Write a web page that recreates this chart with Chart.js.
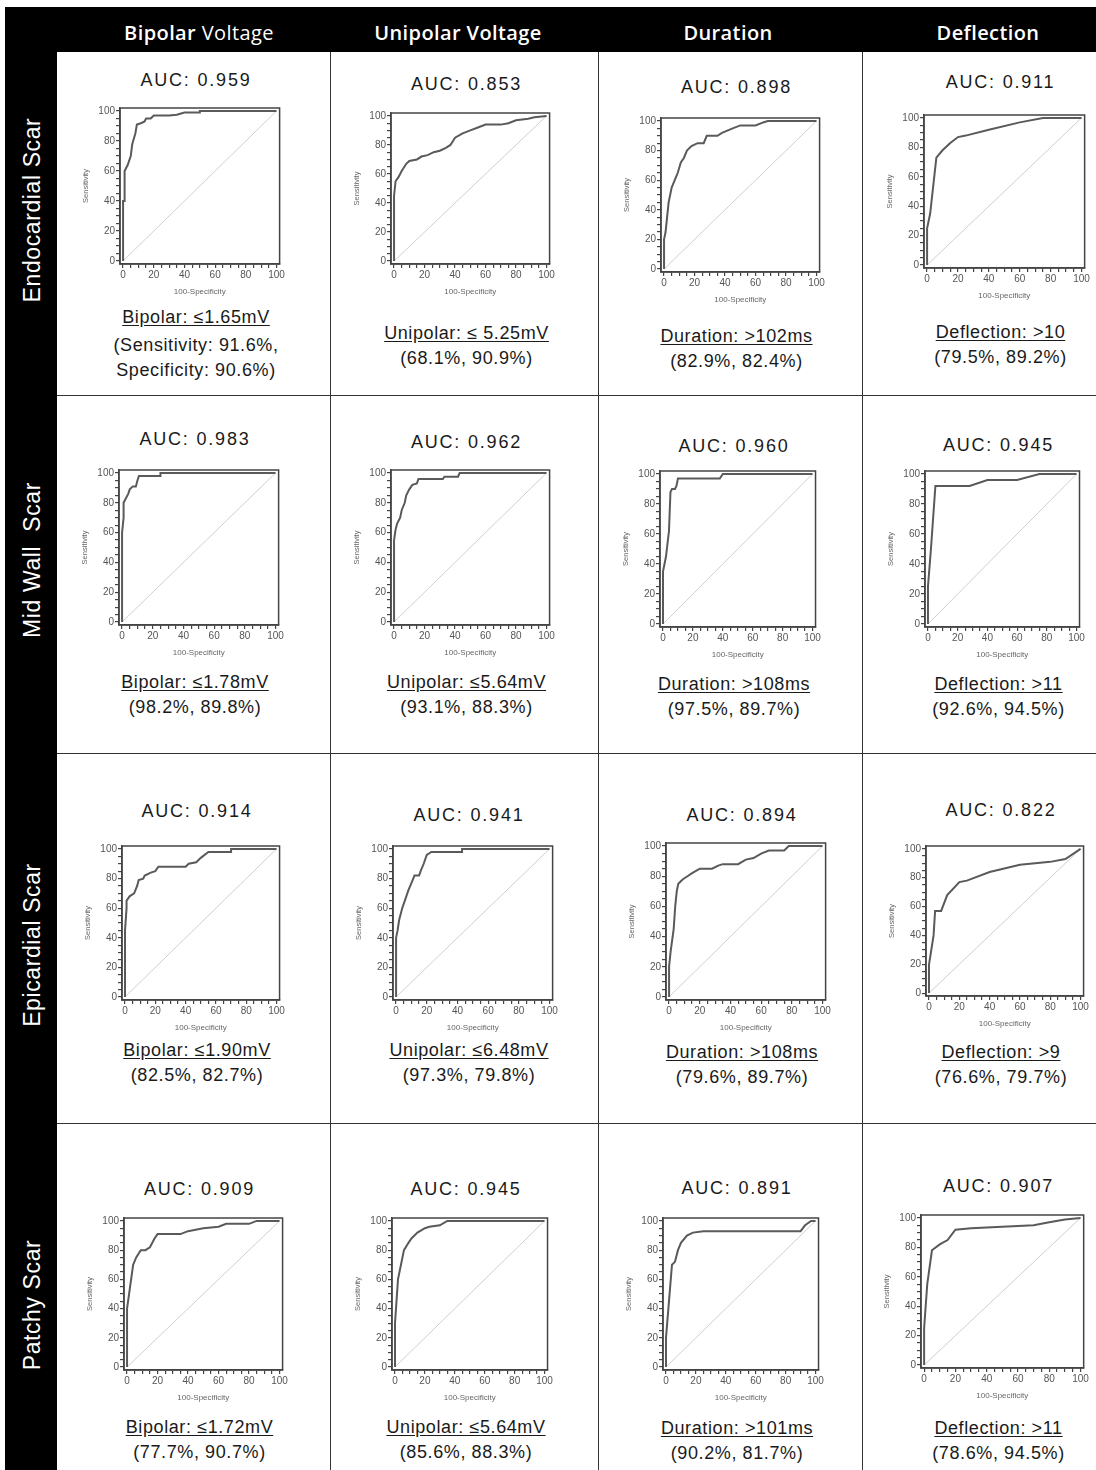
<!DOCTYPE html>
<html>
<head>
<meta charset="utf-8">
<script src="https://cdn.jsdelivr.net/npm/chart.js@4.4.1/dist/chart.umd.min.js"></script>
<style>
  html, body { margin: 0; padding: 0; background: #fff; }
  body { width: 1096px; height: 1470px; position: relative; overflow: hidden; font-family: "Liberation Sans", Arial, sans-serif; }
  .band { position: absolute; background: #000; }
  .head { position: absolute; color: #fff; font-family: "Open Sans", sans-serif; font-size: 20px; font-weight: 400; white-space: nowrap; transform: translate(-50%, -50%); letter-spacing: 0.4px; }
  .head b { font-weight: 600; }
  .rowlab { position: absolute; color: #fff; font-size: 23px; white-space: nowrap; transform: translate(-50%, -50%) rotate(-90deg); letter-spacing: 0.6px; }
  .vline { position: absolute; width: 1px; background: #333; }
  .hline { position: absolute; height: 1px; background: #333; }
  .txt { position: absolute; width: 280px; text-align: center; font-size: 18px; line-height: 22px; color: #1a1a1a; white-space: nowrap; letter-spacing: 0.6px; }
  .auc { letter-spacing: 1.8px; }
  .cut { text-decoration: underline; text-underline-offset: 2px; }
  canvas { position: absolute; }
</style>
</head>
<body>
<script>
// ---- labels ----
const colHeadBold = ['Bipolar', 'Unipolar Voltage', 'Duration', 'Deflection'];
const colHeadPlain = [' Voltage', '', '', ''];
const rowLabels = ['Endocardial Scar', 'Mid Wall\u00a0 Scar', 'Epicardial Scar', 'Patchy Scar'];
const axisLabels = [0, 20, 40, 60, 80, 100];
const diagonal = [0, 100];

const aucs = [
  [0.959, 0.853, 0.898, 0.911],
  [0.983, 0.962, 0.960, 0.945],
  [0.914, 0.941, 0.894, 0.822],
  [0.909, 0.945, 0.891, 0.907]
];
const cutoffs = [
  ['Bipolar: \u22641.65mV', 'Unipolar: \u2264 5.25mV', 'Duration: >102ms', 'Deflection: >10'],
  ['Bipolar: \u22641.78mV', 'Unipolar: \u22645.64mV', 'Duration: >108ms', 'Deflection: >11'],
  ['Bipolar: \u22641.90mV', 'Unipolar: \u22646.48mV', 'Duration: >108ms', 'Deflection: >9'],
  ['Bipolar: \u22641.72mV', 'Unipolar: \u22645.64mV', 'Duration: >101ms', 'Deflection: >11']
];
const sensitivity = [
  [91.6, 68.1, 82.9, 79.5],
  [98.2, 93.1, 97.5, 92.6],
  [82.5, 97.3, 79.6, 76.6],
  [77.7, 85.6, 90.2, 78.6]
];
const specificity = [
  [90.6, 90.9, 82.4, 89.2],
  [89.8, 88.3, 89.7, 94.5],
  [82.7, 79.8, 89.7, 79.7],
  [90.7, 88.3, 81.7, 94.5]
];

// ---- ROC curves (100-Specificity, Sensitivity) ----
const endoBipolarX = [0, 0, 1, 1, 2, 3, 5, 6, 8, 9, 12, 14, 15, 18, 20, 30, 35, 40, 50, 50, 100];
const endoBipolarY = [0, 40, 40, 60, 62, 64, 70, 78, 85, 91, 92, 93, 95, 95, 97, 97, 97.5, 99, 99, 100, 100];
const endoUnipolarX = [0, 0, 1, 3, 5, 8, 10, 15, 18, 22, 26, 30, 34, 37, 40, 45, 50, 55, 60, 70, 75, 80, 88, 92, 100];
const endoUnipolarY = [0, 45, 55, 58, 62, 67, 69, 70, 72, 73, 75, 76, 78, 80, 85, 88, 90, 92, 94, 94, 95, 97, 98, 99, 100];
const endoDurationX = [0, 0, 1, 2, 3, 5, 7, 9, 11, 13, 15, 18, 22, 26, 28, 35, 38, 45, 50, 60, 65, 68, 100];
const endoDurationY = [0, 20, 25, 35, 45, 55, 60, 65, 72, 75, 80, 83, 85, 85, 90, 90, 92, 95, 97, 97, 99, 100, 100];
const endoDeflectionX = [0, 0, 2, 6, 10, 15, 20, 25, 40, 60, 75, 100];
const endoDeflectionY = [0, 25, 35, 73, 78, 83, 87, 88, 92, 97, 100, 100];

const midBipolarX = [0, 0, 1, 1, 2, 4, 5, 7, 9, 10, 11, 20, 25, 25, 100];
const midBipolarY = [0, 60, 70, 80, 82, 86, 89, 91, 91, 95, 98, 98, 98, 100, 100];
const midUnipolarX = [0, 0, 1, 2, 4, 5, 7, 8, 10, 12, 15, 16, 25, 32, 33, 42, 43, 100];
const midUnipolarY = [0, 55, 62, 66, 70, 75, 80, 85, 89, 92, 93, 96, 96, 96, 97.5, 97.5, 100, 100];
const midDurationX = [0, 0, 2, 4, 5, 6, 8, 9, 10, 38, 40, 100];
const midDurationY = [0, 35, 45, 62, 88, 90, 90, 92, 97, 97, 100, 100];
const midDeflectionX = [0, 0, 2, 5, 28, 40, 60, 75, 100];
const midDeflectionY = [0, 25, 50, 92, 92, 96, 96, 100, 100];

const epiBipolarX = [0, 0, 1, 1, 3, 6, 8, 9, 12, 13, 17, 20, 22, 40, 42, 47, 50, 55, 70, 70, 100];
const epiBipolarY = [0, 45, 60, 65, 68, 70, 75, 79, 80, 82, 84, 85, 88, 88, 90, 91, 94, 98, 98, 100, 100];
const epiUnipolarX = [0, 0, 0, 1, 2, 4, 6, 8, 10, 12, 15, 16, 18, 20, 23, 43, 43, 100];
const epiUnipolarY = [0, 20, 40, 45, 52, 60, 66, 72, 77, 82, 82, 85, 90, 96, 98, 98, 100, 100];
const epiDurationX = [0, 0, 1, 3, 4, 5, 6, 9, 12, 15, 20, 28, 32, 35, 45, 50, 55, 60, 65, 75, 78, 100];
const epiDurationY = [0, 20, 30, 45, 60, 70, 75, 78, 80, 82, 85, 85, 87, 88, 88, 91, 92, 95, 97, 97, 100, 100];
const epiDeflectionX = [0, 0, 3, 4, 8, 12, 20, 25, 40, 60, 80, 90, 100];
const epiDeflectionY = [0, 20, 40, 57, 57, 68, 77, 78, 84, 89, 91, 93, 100];

const patchyBipolarX = [0, 0, 2, 4, 6, 9, 12, 15, 18, 20, 35, 40, 50, 60, 65, 80, 85, 100];
const patchyBipolarY = [0, 40, 55, 70, 75, 80, 80, 82, 88, 91, 91, 93, 95, 96, 98, 98, 100, 100];
const patchyUnipolarX = [0, 0, 1, 2, 4, 6, 9, 11, 15, 20, 23, 30, 35, 100];
const patchyUnipolarY = [0, 30, 45, 60, 70, 80, 85, 88, 92, 95, 96, 97, 100, 100];
const patchyDurationX = [0, 0, 2, 4, 6, 8, 10, 14, 18, 25, 90, 93, 97, 100];
const patchyDurationY = [0, 20, 45, 70, 72, 80, 85, 90, 92, 93, 93, 97, 100, 100];
const patchyDeflectionX = [0, 0, 2, 5, 10, 15, 20, 30, 50, 70, 80, 90, 100];
const patchyDeflectionY = [0, 25, 55, 78, 82, 85, 92, 93, 94, 95, 97, 99, 100];

const curves = [
  [[endoBipolarX, endoBipolarY], [endoUnipolarX, endoUnipolarY], [endoDurationX, endoDurationY], [endoDeflectionX, endoDeflectionY]],
  [[midBipolarX, midBipolarY], [midUnipolarX, midUnipolarY], [midDurationX, midDurationY], [midDeflectionX, midDeflectionY]],
  [[epiBipolarX, epiBipolarY], [epiUnipolarX, epiUnipolarY], [epiDurationX, epiDurationY], [epiDeflectionX, epiDeflectionY]],
  [[patchyBipolarX, patchyBipolarY], [patchyUnipolarX, patchyUnipolarY], [patchyDurationX, patchyDurationY], [patchyDeflectionX, patchyDeflectionY]]
];

// ---- page layout (plot box l,t,r,b and text rows) ----
const plotBoxes = [
  [[120, 105, 280, 264], [391, 110, 550, 264], [661, 115, 820, 272], [924, 112, 1085, 268]],
  [[119, 467, 279, 625], [391, 467, 550, 625], [660, 468, 816, 627], [925, 468, 1080, 627]],
  [[122, 843, 280, 1000], [393, 843, 553, 1000], [666, 840, 826, 1000], [926, 843, 1084, 996]],
  [[124, 1215, 283, 1370], [392, 1215, 548, 1370], [663, 1215, 819, 1370], [921, 1212, 1084, 1368]]
];
const aucY = [[80, 84, 87, 82], [439, 442, 446, 445], [811, 815, 815, 810], [1189, 1189, 1188, 1186]];
const cutY = [[317, 333, 336, 332], [682, 682, 684, 684], [1050, 1050, 1052, 1052], [1427, 1427, 1428, 1428]];
const colLines = [330, 598, 862];
const rowLines = [395, 753, 1123];
const headX = [199, 458, 728, 988];
const rowLabY = [210, 560, 945, 1305];

function el(cls, css, html) {
  const d = document.createElement('div');
  d.className = cls;
  Object.assign(d.style, css);
  d.innerHTML = html || '';
  document.body.appendChild(d);
  return d;
}

// frame
colLines.forEach(x => el('vline', { left: x + 'px', top: '52px', height: '1418px' }));
rowLines.forEach(y => el('hline', { left: '57px', top: y + 'px', width: '1039px' }));
el('band', { left: '5px', top: '7px', width: '1091px', height: '45px' });
el('band', { left: '5px', top: '7px', width: '52px', height: '1463px' });
colHeadBold.forEach((b, i) => el('head', { left: headX[i] + 'px', top: '32px' }, '<b>' + b + '</b>' + colHeadPlain[i]));
rowLabels.forEach((t, i) => el('rowlab', { left: '32px', top: rowLabY[i] + 'px' }, t));

const minorTicks = [];
for (let v = 0; v <= 100; v += 5) minorTicks.push(v);

const boxPlugin = {
  id: 'box',
  afterDraw(chart) {
    const a = chart.chartArea, ctx = chart.ctx;
    ctx.save();
    ctx.strokeStyle = '#444';
    ctx.lineWidth = 1.5;
    ctx.strokeRect(a.left, a.top, a.right - a.left, a.bottom - a.top);
    ctx.restore();
  }
};

function axis(title, isX) {
  return {
    type: 'linear', min: -2, max: 102,
    afterBuildTicks: s => { s.ticks = minorTicks.map(v => ({ value: v })); },
    afterFit: s => { if (isX) s.height = 34; else s.width = 40; },
    ticks: {
      autoSkip: false, maxRotation: 0, padding: 1, color: '#555',
      font: { size: 10, family: 'Liberation Sans' },
      callback: v => axisLabels.includes(v) ? String(v) : ''
    },
    grid: { drawOnChartArea: false, drawTicks: true, tickLength: 4, color: '#444', lineWidth: 1.2 },
    border: { color: '#444', width: 1.5 },
    title: { display: true, text: title, color: '#666', padding: 1, font: { size: isX ? 8 : 7.5, family: 'Liberation Sans' } }
  };
}

function makeChart(box, fpr, tpr) {
  const [l, t, r, b] = box;
  const cv = document.createElement('canvas');
  cv.width = (r - l) + 46;
  cv.height = (b - t) + 38;
  cv.style.left = (l - 40) + 'px';
  cv.style.top = (t - 4) + 'px';
  document.body.appendChild(cv);
  new Chart(cv, {
    type: 'scatter',
    data: {
      datasets: [
        { data: fpr.map((x, i) => ({ x, y: tpr[i] })), showLine: true, borderColor: '#5a5a5a', borderWidth: 2, pointRadius: 0, tension: 0 },
        { data: diagonal.map(v => ({ x: v, y: v })), showLine: true, borderColor: '#cfcfcf', borderWidth: 1, pointRadius: 0 }
      ]
    },
    options: {
      responsive: false, animation: false, events: [],
      layout: { padding: { top: 4, right: 6, left: 0, bottom: 0 } },
      plugins: { legend: { display: false }, tooltip: { enabled: false } },
      scales: { x: axis('100-Specificity', true), y: axis('Sensitivity', false) }
    },
    plugins: [boxPlugin]
  });
}

for (let r = 0; r < 4; r++) {
  for (let c = 0; c < 4; c++) {
    const box = plotBoxes[r][c];
    const cx = (box[0] + box[2]) / 2 - 4;
    const pos = y => ({ left: (cx - 140) + 'px', top: (y - 11) + 'px' });
    makeChart(box, curves[r][c][0], curves[r][c][1]);
    el('txt auc', pos(aucY[r][c]), 'AUC: ' + aucs[r][c].toFixed(3));
    el('txt cut', pos(cutY[r][c]), cutoffs[r][c]);
    if (r === 0 && c === 0) {
      el('txt', pos(cutY[r][c] + 28), '(Sensitivity: ' + sensitivity[r][c].toFixed(1) + '%,');
      el('txt', pos(cutY[r][c] + 53), 'Specificity: ' + specificity[r][c].toFixed(1) + '%)');
    } else {
      el('txt', pos(cutY[r][c] + 25), '(' + sensitivity[r][c].toFixed(1) + '%, ' + specificity[r][c].toFixed(1) + '%)');
    }
  }
}
</script>
</body>
</html>
